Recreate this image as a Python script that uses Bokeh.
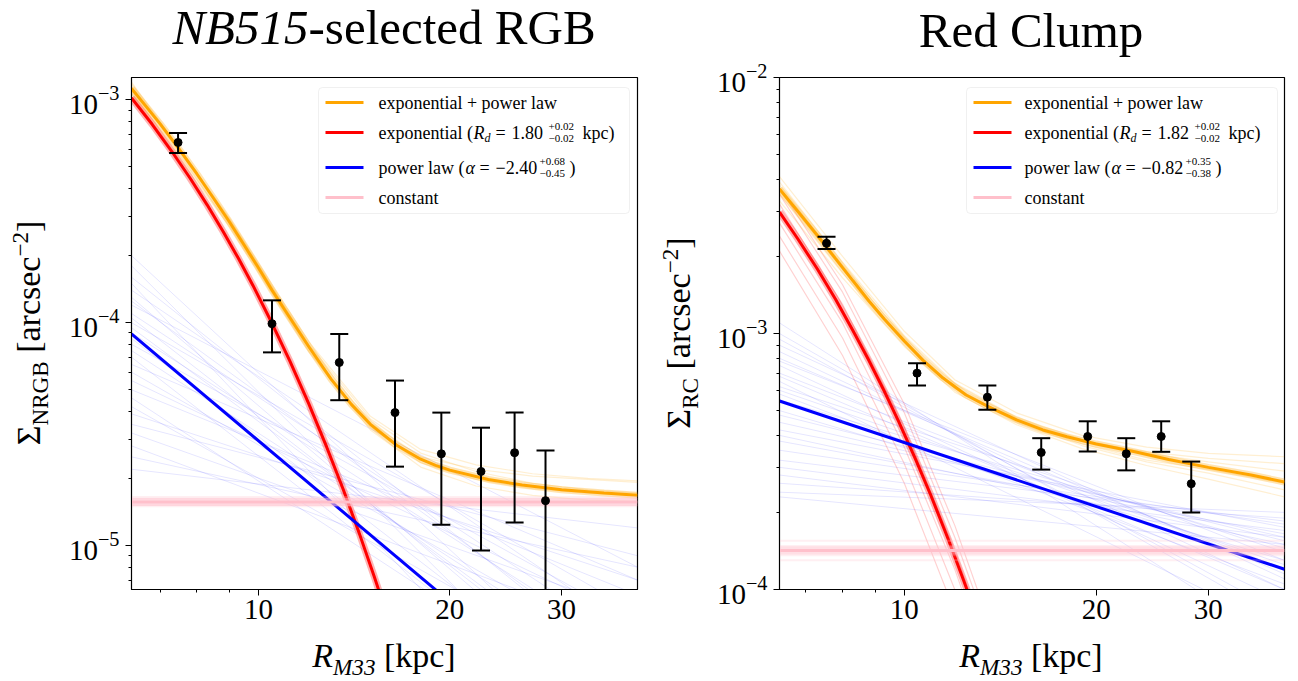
import math
from bokeh.plotting import figure
from bokeh.models import Range1d, FixedTicker, PrintfTickFormatter, LogTickFormatter, Label, BoxAnnotation, Div
from bokeh.layouts import row, column
from bokeh.embed import file_html
from bokeh.resources import INLINE

FONT = "Liberation Serif"

# ---------------- data: NB515-selected RGB ----------------
R_nrgb = [7.47, 10.5, 13.4, 16.4, 19.4, 22.4, 25.3, 28.3]
S_nrgb = [6.44e-4, 9.9e-5, 6.63e-5, 3.95e-5, 2.58e-5, 2.15e-5, 2.61e-5, 1.59e-5]
S_nrgb_hi = [7.1e-4, 1.26e-4, 8.9e-5, 5.5e-5, 3.95e-5, 3.38e-5, 3.95e-5, 2.67e-5]
S_nrgb_lo = [5.77e-4, 7.36e-5, 4.49e-5, 2.26e-5, 1.24e-5, 9.5e-6, 1.27e-5, 3.0e-6]

# best-fit curves
orange_x_L = [6.31, 7, 7.47, 8, 8.5, 9, 9.5, 10, 10.5, 11, 12, 13, 14, 15, 16.5, 18, 19,
              20, 23, 26, 30, 35, 39.5]
orange_y_L = [1.125e-3, 7.8e-4, 6.1e-4, 4.65e-4, 3.61e-4, 2.83e-4, 2.22e-4, 1.76e-4, 1.4e-4,
              1.14e-4, 7.8e-5, 5.6e-5, 4.3e-5, 3.5e-5, 2.82e-5, 2.44e-5, 2.29e-5,
              2.18e-5, 1.98e-5, 1.87e-5, 1.78e-5, 1.72e-5, 1.68e-5]
red_x_L = [6.31, 6.8, 7.3, 7.8, 8.3, 8.8, 9.3, 9.8, 10.5, 11.2, 12, 12.8, 13.6, 14.4, 15.2, 16]
red_y_L = [1.02e-3, 7.77e-4, 5.88e-4, 4.46e-4, 3.38e-4, 2.56e-4, 1.94e-4, 1.47e-4, 9.94e-5,
           6.74e-5, 4.32e-5, 2.77e-5, 1.78e-5, 1.14e-5, 7.3e-6, 4.7e-6]
blue_x_L = [6.31, 20]
blue_y_L = [8.9e-5, 5.6e-6]
const_L = 1.57e-5

# posterior sample curves (faint), read approximately
faint_orange_x_L = [6.31, 9, 12, 15, 18, 22, 27, 33, 39.5]
faint_orange_y_L = [
    [1.2e-3, 2.95e-4, 8.2e-5, 3.8e-5, 2.7e-5, 2.3e-5, 2.1e-5, 2.0e-5, 1.95e-5],
    [1.06e-3, 2.7e-4, 7.4e-5, 3.3e-5, 2.25e-5, 1.85e-5, 1.68e-5, 1.6e-5, 1.58e-5],
    [1.15e-3, 2.9e-4, 8.0e-5, 3.7e-5, 2.6e-5, 2.15e-5, 1.9e-5, 1.78e-5, 1.72e-5],
    [1.1e-3, 2.75e-4, 7.5e-5, 3.4e-5, 2.35e-5, 1.98e-5, 1.8e-5, 1.72e-5, 1.68e-5],
    [1.18e-3, 2.9e-4, 7.9e-5, 3.55e-5, 2.5e-5, 2.2e-5, 2.05e-5, 1.98e-5, 1.92e-5],
]
faint_blue_ends_x_L = [6.31, 39.5]
faint_blue_left_L = [2.0e-4, 1.6e-4, 1.3e-4, 1.1e-4, 9.5e-5, 8e-5, 7e-5, 6e-5, 5e-5,
                     4.2e-5, 3.5e-5, 2.8e-5, 2.2e-5, 1.5e-4, 1.2e-4, 1.0e-4, 6.5e-5,
                     1.8e-4, 1.4e-4, 1.25e-4, 1.05e-4, 9e-5, 8.5e-5, 7.5e-5, 5.5e-5,
                     4.6e-5, 3.9e-5, 3.2e-5, 2.5e-5]
faint_blue_right_L = [1.6e-6, 2.5e-6, 1.5e-6, 3.5e-6, 2.0e-6, 4.5e-6, 1.2e-6, 3.0e-6, 6e-6,
                      2.2e-6, 9e-6, 4e-6, 1.2e-5, 6e-7, 8e-6, 5e-6, 7e-6,
                      1.0e-6, 4e-6, 2.8e-6, 1.8e-6, 3.2e-6, 1.5e-6, 2.5e-6, 4.5e-6,
                      1.5e-6, 7e-6, 5e-6, 8e-6]
faint_const_L = [1.5e-5, 1.53e-5, 1.62e-5, 1.65e-5]

# ---------------- data: Red Clump ----------------
R_rc = [7.55, 10.47, 13.5, 16.4, 19.4, 22.3, 25.3, 28.2]
S_rc = [2.25e-3, 7.0e-4, 5.64e-4, 3.43e-4, 3.96e-4, 3.39e-4, 3.96e-4, 2.59e-4]
S_rc_hi = [2.39e-3, 7.66e-4, 6.26e-4, 3.9e-4, 4.54e-4, 3.9e-4, 4.54e-4, 3.16e-4]
S_rc_lo = [2.14e-3, 6.26e-4, 5.04e-4, 2.94e-4, 3.46e-4, 2.92e-4, 3.45e-4, 2.0e-4]

orange_x_R = [6.37, 6.8, 7.3, 7.8, 8.3, 8.8, 9.3, 10, 10.7, 11.5, 12.5, 13.5, 15, 16.5, 18,
              20, 23, 26, 30, 35, 39.5]
orange_y_R = [3.67e-3, 3.01e-3, 2.42e-3, 1.96e-3, 1.61e-3, 1.34e-3, 1.14e-3, 9.35e-4, 7.85e-4,
              6.7e-4, 5.75e-4, 5.2e-4, 4.6e-4, 4.2e-4, 3.95e-4, 3.7e-4, 3.45e-4, 3.22e-4,
              3.0e-4, 2.8e-4, 2.63e-4]
red_x_R = [6.37, 6.8, 7.3, 7.8, 8.3, 8.8, 9.3, 9.8, 10.4, 11, 11.7, 12.4, 13.2, 14]
red_y_R = [2.98e-3, 2.35e-3, 1.79e-3, 1.36e-3, 1.03e-3, 7.84e-4, 5.96e-4, 4.53e-4, 3.25e-4,
           2.34e-4, 1.59e-4, 1.08e-4, 7.0e-5, 4.5e-5]
blue_x_R = [6.37, 39.5]
blue_y_R = [5.45e-4, 1.2e-4]
const_R = 1.42e-4

faint_orange_x_R = [6.37, 8, 10, 12, 15, 19, 24, 30, 39.5]
faint_orange_y_R = [
    [4.1e-3, 2.0e-3, 1.02e-3, 6.6e-4, 4.9e-4, 4.0e-4, 3.6e-4, 3.4e-4, 3.3e-4],
    [3.3e-3, 1.65e-3, 8.9e-4, 5.9e-4, 4.4e-4, 3.55e-4, 3.05e-4, 2.7e-4, 2.3e-4],
    [3.9e-3, 1.9e-3, 9.8e-4, 6.4e-4, 4.7e-4, 3.85e-4, 3.4e-4, 3.15e-4, 2.9e-4],
    [3.5e-3, 1.72e-3, 9.2e-4, 6.1e-4, 4.5e-4, 3.65e-4, 3.15e-4, 2.85e-4, 2.45e-4],
    [3.8e-3, 1.85e-3, 9.6e-4, 6.35e-4, 4.65e-4, 3.8e-4, 3.45e-4, 3.25e-4, 3.1e-4],
    [3.6e-3, 1.78e-3, 9.3e-4, 6.15e-4, 4.55e-4, 3.7e-4, 3.2e-4, 2.95e-4, 2.6e-4],
]
faint_red_x_R = [6.37, 8, 10, 12, 14]
faint_red_y_R = [
    [3.5e-3, 1.45e-3, 4.9e-4, 1.6e-4, 5.5e-5],
    [3.2e-3, 1.3e-3, 4.3e-4, 1.42e-4, 4.7e-5],
    [2.7e-3, 1.1e-3, 3.6e-4, 1.2e-4, 4.0e-5],
    [2.4e-3, 9.6e-4, 3.1e-4, 1.0e-4, 3.3e-5],
    [2.1e-3, 8.2e-4, 2.6e-4, 8.2e-5, 2.6e-5],
    [3.7e-3, 1.55e-3, 5.3e-4, 1.78e-4, 6.0e-5],
]
faint_blue_ends_x_R = [6.37, 39.5]
faint_blue_left_R = [1.1e-3, 9.5e-4, 8.5e-4, 7.5e-4, 7e-4, 6.2e-4, 5e-4, 4.5e-4, 4e-4,
                     3.5e-4, 3e-4, 2.6e-4, 2.3e-4, 6.5e-4, 8e-4, 5.8e-4,
                     1.0e-3, 9e-4, 7.8e-4, 6.8e-4, 6e-4, 5.5e-4, 4.8e-4, 4.2e-4,
                     3.8e-4, 3.2e-4, 2.8e-4, 2.4e-4]
faint_blue_right_R = [6e-5, 8e-5, 1.0e-4, 9e-5, 1.2e-4, 1.4e-4, 1.3e-4, 1.6e-4, 1.5e-4,
                      1.8e-4, 1.7e-4, 1.9e-4, 1.5e-4, 7e-5, 1.15e-4, 1.05e-4,
                      7.5e-5, 1.1e-4, 1.3e-4, 1.0e-4, 1.25e-4, 1.45e-4, 1.55e-4, 1.75e-4,
                      1.65e-4, 1.85e-4, 1.6e-4, 2.0e-4]
faint_const_R = [1.3e-4, 1.36e-4, 1.48e-4, 1.55e-4]

x_major = [10, 20, 30]
x_minor = [7, 8, 9]

ORANGE, RED, BLUE, PINK = "#FFA500", "#FF0000", "#0000FF", "#FFC0CB"


def text(p, x, y, s, size, style="normal"):
    p.add_layout(Label(x=x, y=y, x_units="screen", y_units="screen", text=s,
                       text_font=FONT, text_font_size=f"{size}px", text_font_style=style,
                       text_color="black", text_align="left", text_baseline="middle"))


def make_panel(width, min_left, min_right, x_rng, y_rng, y_major, y_minor):
    p = figure(width=width, height=581, x_axis_type="log", y_axis_type="log",
               x_range=Range1d(*x_rng), y_range=Range1d(*y_rng),
               output_backend="svg", toolbar_location=None, title=None,
               min_border_left=min_left, min_border_right=min_right,
               min_border_top=19, min_border_bottom=50)
    p.grid.visible = False
    p.outline_line_color = "black"
    p.outline_line_width = 1.2
    p.background_fill_color = "white"
    p.border_fill_color = "white"
    p.xaxis.ticker = FixedTicker(ticks=x_major, minor_ticks=x_minor)
    p.xaxis.formatter = PrintfTickFormatter(format="%d")
    p.yaxis.ticker = FixedTicker(ticks=y_major, minor_ticks=y_minor)
    p.yaxis.formatter = LogTickFormatter()
    for ax in (p.xaxis[0], p.yaxis[0]):
        ax.axis_line_color = "black"
        ax.major_tick_line_color = "black"
        ax.minor_tick_line_color = "black"
        ax.major_tick_out = 6
        ax.major_tick_in = 0
        ax.minor_tick_out = 3
        ax.minor_tick_in = 0
        ax.major_label_text_font = FONT
        ax.major_label_text_font_size = "29px"
        ax.major_label_text_color = "black"
    p.xaxis.major_label_standoff = 4
    p.yaxis.major_label_standoff = 6
    return p


def draw(p, fo_x, fo_y, fr_x, fr_y, fb_x, fb_l, fb_r, o_x, o_y, r_x, r_y, b_x, b_y,
         const, fconst, xr, R, S, hi, lo):
    p.multi_line([fb_x] * len(fb_l), [[a, b] for a, b in zip(fb_l, fb_r)],
                 line_color=BLUE, line_alpha=0.1, line_width=1)
    if fr_y:
        p.multi_line([fr_x] * len(fr_y), fr_y, line_color=RED, line_alpha=0.18, line_width=1.2)
    p.multi_line([fo_x] * len(fo_y), fo_y, line_color=ORANGE, line_alpha=0.18, line_width=1.2)
    p.line(o_x, o_y, line_color=ORANGE, line_alpha=0.3, line_width=7)
    p.line(o_x, o_y, line_color=ORANGE, line_width=3)
    p.line(r_x, r_y, line_color=RED, line_alpha=0.3, line_width=7)
    p.line(r_x, r_y, line_color=RED, line_width=3)
    p.line(b_x, b_y, line_color=BLUE, line_width=3)
    p.multi_line([list(xr)] * len(fconst), [[c, c] for c in fconst],
                 line_color=PINK, line_alpha=0.25, line_width=2)
    p.line(list(xr), [const, const], line_color=PINK, line_alpha=0.5, line_width=8)
    p.line(list(xr), [const, const], line_color=PINK, line_width=3)
    p.segment(x0=R, y0=lo, x1=R, y1=hi, line_color="black", line_width=2)
    p.scatter(R, hi, marker="dash", size=18, line_color="black", line_width=2)
    p.scatter(R, lo, marker="dash", size=18, line_color="black", line_width=2)
    p.scatter(R, S, marker="circle", size=8, color="black")


def legend(p, rows):
    p.add_layout(BoxAnnotation(left=187, right=498, top=502, bottom=376,
                               left_units="screen", right_units="screen",
                               top_units="screen", bottom_units="screen",
                               fill_color="white", fill_alpha=0.85,
                               line_color="#cccccc", line_width=1, border_radius=4))
    for color, y, pieces in rows:
        p.add_layout(BoxAnnotation(left=194, right=232, top=y + 1.6, bottom=y - 1.6,
                                   left_units="screen", right_units="screen",
                                   top_units="screen", bottom_units="screen",
                                   fill_color=color, fill_alpha=1.0, line_alpha=0))
        for s, x, dy, size, style in pieces:
            text(p, x, y + dy, s, size, style)


def legend_rows(x0, rd, rd_hi, rd_lo, al, al_hi, al_lo):
    return [
        (ORANGE, 487, [("exponential + power law", x0, 0, 18, "normal")]),
        (RED, 457, [("exponential (", x0, 0, 18, "normal"), ("R", x0 + 95, 0, 18, "italic"),
                    ("d", x0 + 106, -5, 12, "italic"), ("=", x0 + 117, 0, 18, "normal"),
                    (rd, x0 + 133, 0, 18, "normal"), (rd_hi, x0 + 170, 6, 11, "normal"),
                    (rd_lo, x0 + 170, -6, 11, "normal"), ("kpc)", x0 + 204, 0, 18, "normal")]),
        (BLUE, 422, [("power law (", x0, 0, 18, "normal"), ("\u03b1", x0 + 87, 0, 18, "italic"),
                     ("=", x0 + 101, 0, 18, "normal"), (al, x0 + 117, 0, 18, "normal"),
                     (al_hi, x0 + 161, 6, 11, "normal"), (al_lo, x0 + 161, -6, 11, "normal"),
                     (")", x0 + 191, 0, 18, "normal")]),
        (PINK, 392, [("constant", x0, 0, 18, "normal")]),
    ]


# ---------------- left panel ----------------
y_minor_L = [k * 10.0 ** e for e in (-6, -5, -4) for k in range(2, 10)]
pL = make_panel(595, 76, 13, (6.31, 39.5), (6.35e-6, 1.26e-3), [1e-5, 1e-4, 1e-3], y_minor_L)
draw(pL, faint_orange_x_L, faint_orange_y_L, [], [], faint_blue_ends_x_L, faint_blue_left_L,
     faint_blue_right_L, orange_x_L, orange_y_L, red_x_L, red_y_L, blue_x_L, blue_y_L,
     const_L, faint_const_L, (6.31, 39.5), R_nrgb, S_nrgb, S_nrgb_hi, S_nrgb_lo)
legend(pL, legend_rows(247, "1.80", "+0.02", "\u22120.02", "\u22122.40", "+0.68", "\u22120.45"))

# ---------------- right panel ----------------
y_minor_R = [k * 10.0 ** e for e in (-4, -3) for k in range(2, 10)]
pR = make_panel(593, 74, 14, (6.37, 39.5), (1e-4, 1e-2), [1e-4, 1e-3, 1e-2], y_minor_R)
draw(pR, faint_orange_x_R, faint_orange_y_R, faint_red_x_R, faint_red_y_R, faint_blue_ends_x_R,
     faint_blue_left_R, faint_blue_right_R, orange_x_R, orange_y_R, red_x_R, red_y_R,
     blue_x_R, blue_y_R, const_R, faint_const_R, (6.37, 39.5), R_rc, S_rc, S_rc_hi, S_rc_lo)
legend(pR, legend_rows(245, "1.82", "+0.02", "\u22120.02", "\u22120.82", "+0.35", "\u22120.38"))

# ---------------- titles and axis labels (HTML text) ----------------
BASE = "font-family:'Liberation Serif',serif;color:#000;"
SPAN = "position:absolute;white-space:nowrap;"

title_div = Div(width=1298, height=58, margin=0, text=(
    f'<div style="position:relative;width:1298px;height:58px;{BASE}">'
    f'<span style="{SPAN}left:384px;top:0px;transform:translateX(-50%);font-size:49px;line-height:55px;">'
    '<i>NB515</i>-selected RGB</span>'
    f'<span style="{SPAN}left:1031px;top:3px;transform:translateX(-50%);font-size:49px;line-height:55px;">'
    'Red Clump</span></div>'))


def ylabel_div(sub):
    return Div(width=55, height=581, margin=0, text=(
        f'<div style="position:relative;width:55px;height:581px;{BASE}">'
        f'<span style="{SPAN}left:30px;top:275px;transform:translate(-50%,-50%) rotate(-90deg);'
        'font-size:34px;line-height:34px;">'
        f'\u03a3<sub style="font-size:0.68em;">{sub}</sub> [arcsec<sup style="font-size:0.68em;">\u22122</sup>]'
        '</span></div>'))


XL = '<i>R</i><sub style="font-size:0.68em;"><i>M33</i></sub> [kpc]'
xlabel_div = Div(width=1298, height=42, margin=0, text=(
    f'<div style="position:relative;width:1298px;height:42px;{BASE}">'
    f'<span style="{SPAN}left:384px;top:0px;transform:translateX(-50%);font-size:34px;line-height:34px;">{XL}</span>'
    f'<span style="{SPAN}left:1031px;top:0px;transform:translateX(-50%);font-size:34px;line-height:34px;">{XL}</span>'
    '</div>'))

layout = column(title_div,
                row(ylabel_div("NRGB"), pL, ylabel_div("RC"), pR, spacing=0),
                xlabel_div, spacing=0)
open("out.html", "w").write(file_html(layout, INLINE))
